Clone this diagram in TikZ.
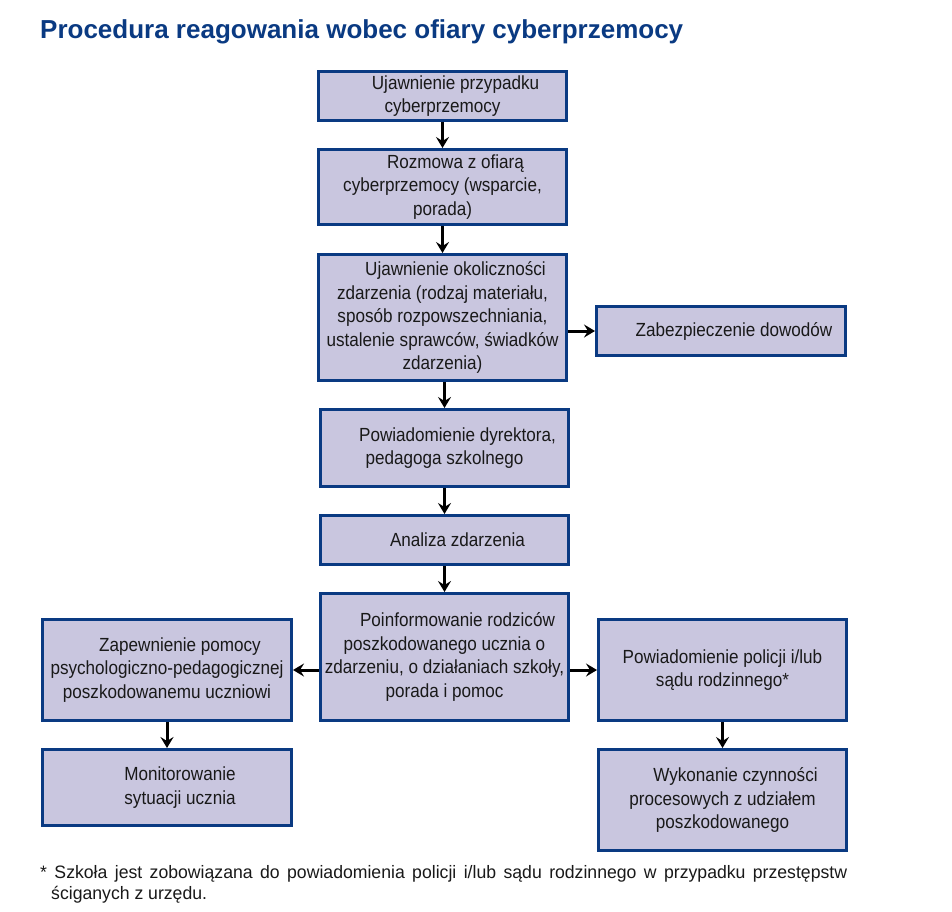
\documentclass[tikz,border=0pt]{standalone}
\usepackage{fontspec}
\setmainfont{Liberation Sans}
\newfontfamily\boxfont[FakeStretch=0.9]{Liberation Sans}
\newfontfamily\footfont[FakeStretch=0.98]{Liberation Sans}
\newfontfamily\titlefont{Liberation Sans}
\usetikzlibrary{arrows.meta}
\definecolor{bdr}{HTML}{0A3A82}
\definecolor{boxfill}{HTML}{C9C6DF}
\definecolor{titleblue}{HTML}{0A3A82}
\tikzset{
  box/.style={draw=bdr, line width=3pt, fill=boxfill, inner sep=2pt, align=center,
    font=\boxfont\fontsize{19}{23.5}\selectfont, text=black!90},
  arr/.style={line width=3pt, -{Stealth[length=11pt,width=13pt,inset=4pt]}}
}
\newcommand{\ind}{\hspace*{26pt}}
\begin{document}
\begin{tikzpicture}[x=1pt,y=-1pt]
\useasboundingbox[fill=white] (0,0) rectangle (952,911);
\node[anchor=base west, inner sep=0, text=titleblue, font=\titlefont\bfseries\fontsize{26}{30}\selectfont] (title) at (40,38) {Procedura reagowania wobec ofiary cyberprzemocy};

\node[box, minimum width=248pt, minimum height=49pt] (b1) at (442.5,96) {\ind Ujawnienie przypadku\\cyberprzemocy};
\node[box, minimum width=248pt, minimum height=75pt] (b2) at (442.5,187) {\ind Rozmowa z ofiarą\\cyberprzemocy (wsparcie,\\porada)};
\node[box, minimum width=248pt, minimum height=126pt] (b3) at (442.5,317.5) {\ind Ujawnienie okoliczności\\zdarzenia (rodzaj materiału,\\sposób rozpowszechniania,\\ustalenie sprawców, świadków\\zdarzenia)};
\node[box, minimum width=249pt, minimum height=49pt] (b4) at (721,331) {\ind Zabezpieczenie dowodów};
\node[box, minimum width=248pt, minimum height=77pt] (b5) at (444.5,448) {\ind Powiadomienie dyrektora,\\pedagoga szkolnego};
\node[box, minimum width=248pt, minimum height=49pt] (b6) at (444.5,540) {\ind Analiza zdarzenia};
\node[box, minimum width=248pt, minimum height=127pt] (b7) at (444.5,657) {\ind Poinformowanie rodziców\\poszkodowanego ucznia o\\zdarzeniu, o działaniach szkoły,\\porada i pomoc};
\node[box, minimum width=249pt, minimum height=101pt] (b8) at (167,670) {\ind Zapewnienie pomocy\\psychologiczno-pedagogicznej\\poszkodowanemu uczniowi};
\node[box, minimum width=249pt, minimum height=76pt] (b9) at (167,787.5) {\ind Monitorowanie\\\ind sytuacji ucznia};
\node[box, minimum width=248pt, minimum height=101pt] (b10) at (722.5,670) {Powiadomienie policji i/lub\\sądu rodzinnego*};
\node[box, minimum width=248pt, minimum height=101pt] (b11) at (722.5,800) {\ind Wykonanie czynności\\procesowych z udziałem\\poszkodowanego};

\draw[arr] (b1.south) -- (b2.north);
\draw[arr] (b2.south) -- (b3.north);
\draw[arr] (b3.south -| b5.north) -- (b5.north);
\draw[arr] (b5.south) -- (b6.north);
\draw[arr] (b6.south) -- (b7.north);
\draw[arr] (b3.east |- b4.west) -- (b4.west);
\draw[arr] (b7.west |- b8.east) -- (b8.east);
\draw[arr] (b7.east |- b10.west) -- (b10.west);
\draw[arr] (b8.south) -- (b9.north);
\draw[arr] (b10.south) -- (b11.north);

\node[anchor=north west, inner sep=0, align=justify, text width=807pt,
  font=\footfont\fontsize{18}{21}\selectfont, text=black!90] (foot) at (40,865)
  {*\ Szkoła jest zobowiązana do powiadomienia policji i/lub sądu rodzinnego w przypadku przestępstw\linebreak\hspace*{11pt}ściganych z urzędu.};
\end{tikzpicture}
\end{document}
